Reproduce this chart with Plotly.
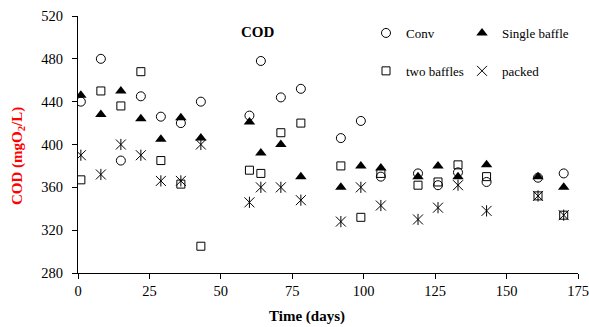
import plotly.graph_objects as go

days = [1, 8, 15, 22, 29, 36, 43, 60, 64, 71, 78, 92, 99, 106, 119, 126, 133, 143, 161, 170]
conv = [440, 480, 385, 445, 426, 420, 440, 427, 478, 444, 452, 406, 422, 370, 373, 362, 374, 365, 369, 373]
single_baffle = [446, 428, 450, 424, 405, 425, 406, 421, 392, 400, 370, 360, 380, 378, 370, 380, 370, 381, 370, 360]
two_baffles = [367, 450, 436, 468, 385, 363, 305, 376, 373, 411, 420, 380, 332, 373, 362, 365, 381, 370, 352, 334]
packed = [390, 372, 400, 390, 366, 366, 400, 346, 360, 360, 348, 328, 360, 343, 330, 341, 362, 338, 352, 334]

x_ticks = [0, 25, 50, 75, 100, 125, 150, 175]
y_ticks = [280, 320, 360, 400, 440, 480, 520]

W, H = 589, 327
FONT = "Liberation Serif, Times New Roman, serif"

fig = go.Figure()
fig.add_trace(go.Scatter(x=days, y=conv, mode="markers", name="Conv", legend="legend",
                         legendgroup="a",
                         marker=dict(symbol="circle-open", size=9, color="black", line=dict(width=1, color="black"))))
fig.add_trace(go.Scatter(x=days, y=two_baffles, mode="markers", name="two baffles", legend="legend",
                         legendgroup="b",
                         marker=dict(symbol="square-open", size=8, color="black", line=dict(width=1, color="black"))))
fig.add_trace(go.Scatter(x=days, y=single_baffle, mode="markers", name="Single baffle", legend="legend2",
                         legendgroup="c",
                         marker=dict(symbol="triangle-up", size=10, color="black", line=dict(width=0))))
fig.add_trace(go.Scatter(x=days, y=packed, mode="markers", name="packed", legend="legend2",
                         legendgroup="d",
                         marker=dict(symbol="x-thin-open", size=10, color="black", line=dict(width=1, color="black"))))
fig.add_trace(go.Scatter(x=days, y=packed, mode="markers", name="packed", legend="legend2",
                         legendgroup="d", showlegend=False, hoverinfo="skip",
                         marker=dict(symbol="line-ns-open", size=8, color="black", line=dict(width=1, color="black"))))

l, r, t, b = 78, 11, 16, 54

legend_common = dict(font=dict(family=FONT, size=13, color="black"), bgcolor="rgba(0,0,0,0)",
                     borderwidth=0, xref="container", yref="container", xanchor="left", yanchor="top",
                     tracegroupgap=18, orientation="v")

fig.update_layout(
    width=W, height=H,
    margin=dict(l=l, r=r, t=t, b=b, autoexpand=False),
    paper_bgcolor="white", plot_bgcolor="white",
    font=dict(family=FONT, size=14, color="black"),
    showlegend=True,
    legend=dict(x=366 / W, y=1 - 18 / H, **legend_common),
    legend2=dict(x=462 / W, y=1 - 18 / H, **legend_common),
    xaxis=dict(range=[0, 175], tickvals=x_ticks, ticktext=[str(v) for v in x_ticks],
               showgrid=False, zeroline=False, showline=True, linecolor="black", linewidth=1,
               ticks="outside", ticklen=5, tickcolor="black", tickwidth=1, automargin=False,
               tickfont=dict(family=FONT, size=14.5, color="black")),
    yaxis=dict(range=[280, 520], tickvals=y_ticks, ticktext=[str(v) for v in y_ticks],
               showgrid=False, zeroline=False, showline=True, linecolor="black", linewidth=1,
               ticks="outside", ticklen=5, tickcolor="black", tickwidth=1, ticklabelstandoff=6,
               automargin=False,
               tickfont=dict(family=FONT, size=14.5, color="black")),
    annotations=[
        dict(text="<b>COD</b>", xref="paper", yref="paper",
             x=(258 - l) / (W - l - r), y=1 - (32 - t) / (H - t - b),
             showarrow=False, font=dict(family=FONT, size=15, color="black"),
             xanchor="center", yanchor="middle"),
        dict(text="<b>Time (days)</b>", xref="paper", yref="paper",
             x=(307 - l) / (W - l - r), y=-(316 - (H - b)) / (H - t - b),
             showarrow=False, font=dict(family=FONT, size=15, color="black"),
             xanchor="center", yanchor="middle"),
        dict(text="<b>COD (mgO<sub>2</sub>/L)</b>", xref="paper", yref="paper",
             x=-(l - 18) / (W - l - r), y=1 - (156 - t) / (H - t - b),
             showarrow=False, textangle=-90, font=dict(family=FONT, size=15, color="red"),
             xanchor="center", yanchor="middle"),
    ],
)

fig.write_html("out.html", config={"displayModeBar": False},
               post_script="document.body.style.margin='0';")
